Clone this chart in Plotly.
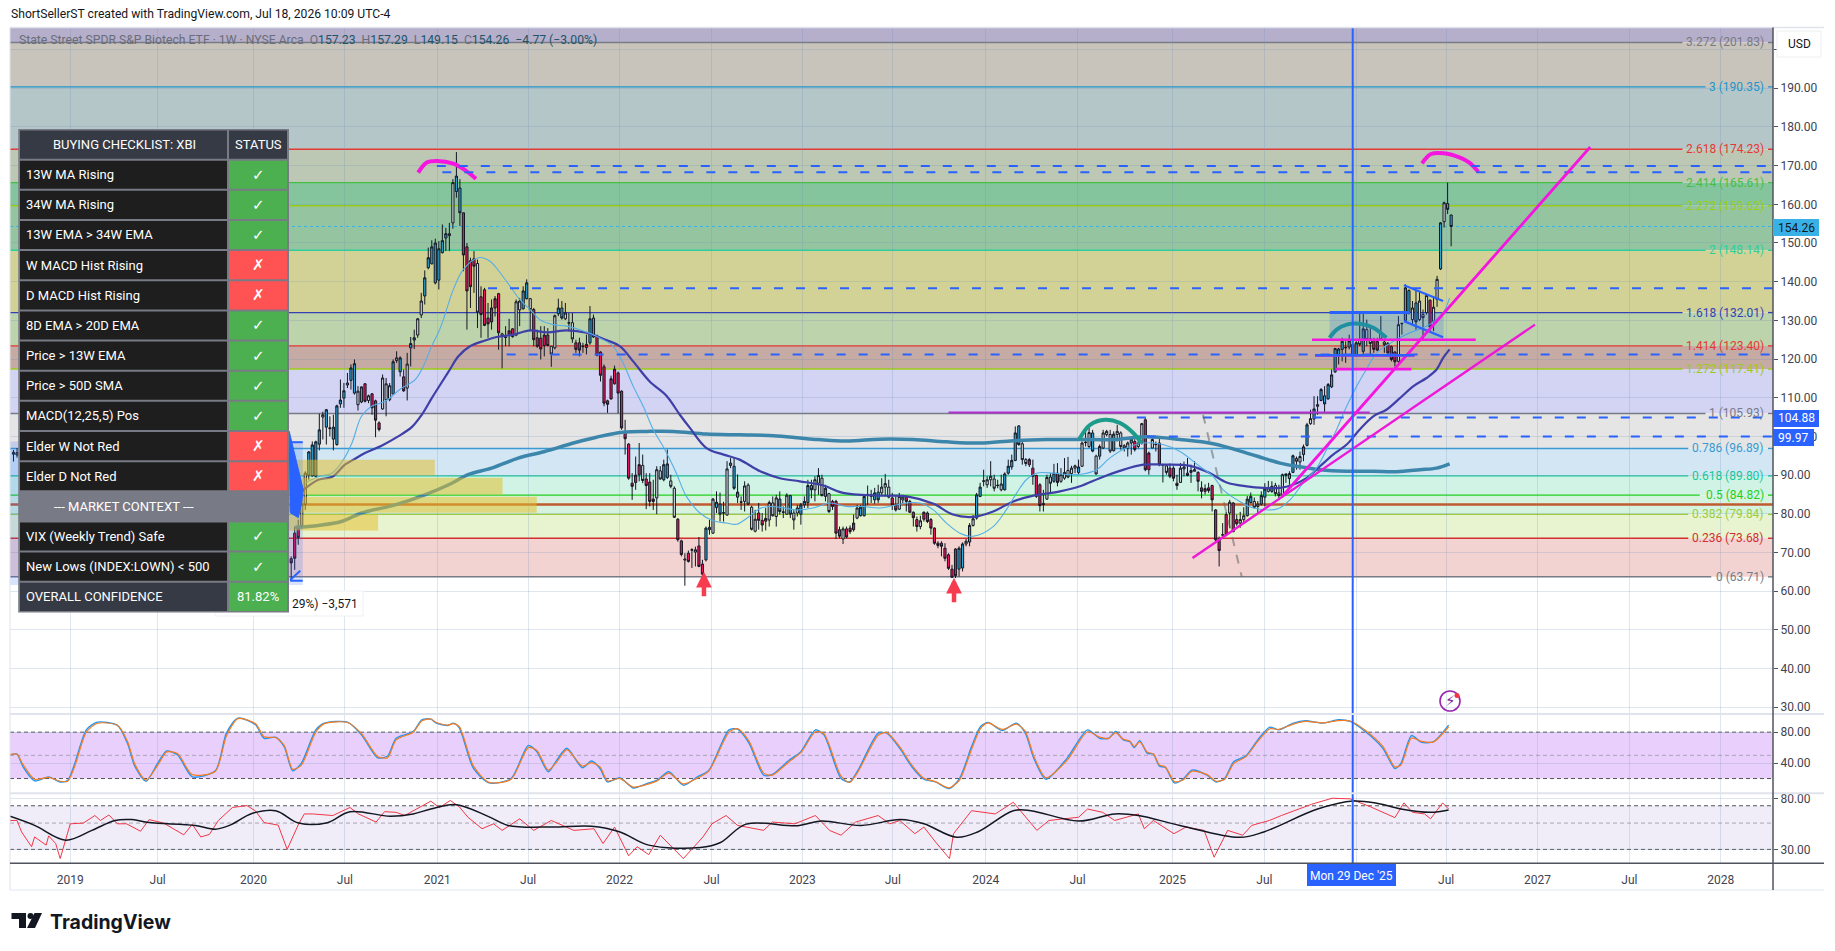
import pandas as pd
import plotly.graph_objects as go

W, H = 1835, 951
FONT = "Roboto"

# weekly candles: three early bars left of the table, then 2020-03-16 onward
early_dates = ["2018-09-10", "2018-09-17", "2018-09-24"]
bar_state = ("bnb"
             "rrrnnbbbbn" "bnbbbbnbbn" "brnrrrnnnb" "nbrnbbnnbb" "bbbbbnnbbr"
             "rrrnrrrrrr" "nnrrnnbbnr" "rrrrnnbbnn" "nrrnrbbrrr" "rrrrrrrrrr"
             "nrrrnnbbnn" "rrnrnnrrbn" "nbbnnnbbnn" "nnnrrrnnnb" "nnbnnbbbbn"
             "nnbnrrrnrr" "rnbbnnbbnn" "nrrnnrrrrn" "rrrrrrrrrr" "bbnbnbbnnn"
             "nnnbbbbbnn" "rrrrnnnbrn" "nnnnbnnnbn" "bnnnbnnnnb" "rnnrrnnrnn"
             "rrrnnrnnrr" "rrrrrnrnrr" "nnbbnnbbnb" "nnnnbbnnbb" "nbnbbbbbbb"
             "nbbbnbnnrr" "nnrrrnnbbn" "bnnnrnnbnb" "b")

bar_open = [95.4, 95.8, 95.2,
            68.4, 75, 76.3, 77, 82.5, 90, 89.8, 89.7, 98, 105,
            102.4, 102, 99.3, 97.9, 108.4, 109.9, 113.3, 114.5, 111.2, 108.2,
            108.9, 113.6, 109.3, 111, 109.2, 103.5, 107.1, 109.5, 109.5, 111,
            119.6, 116.7, 115.4, 112.5, 122.9, 124.9, 126.2, 131.4, 136.3, 143.6,
            144.6, 139.7, 140.4, 147.5, 151.3, 151.9, 155.2, 163.3, 164.2, 157.8,
            149, 145.4, 145.9, 144.7, 136.1, 137.9, 130.6, 129.6, 133.2, 136.9,
            126.5, 125.7, 126.5, 127.8, 126.2, 132.7, 133, 135.6, 135.6, 132.8,
            125.5, 125.4, 123.5, 126.2, 123.3, 122.9, 131.7, 133.2, 130.4, 129.4,
            129.4, 124.2, 124.2, 123.2, 123, 124.2, 130.6, 125.9, 121.8, 118,
            109.2, 109.7, 113.6, 116.4, 111.7, 101.1, 98, 87.9, 88.1, 90.1,
            92.5, 89, 88.2, 83.8, 84.1, 91.1, 88.8, 89.4, 88.5, 86.6,
            78.6, 73, 68.3, 69.8, 70.6, 70.1, 71.7, 67, 68.1, 75.9,
            75, 81.6, 82.5, 80.3, 79.7, 92.5, 92.3, 84.3, 83.1, 83.2,
            87.4, 81.7, 75.5, 80.2, 78.3, 78.1, 78.4, 82.8, 79.3, 83.8,
            80.5, 79.9, 84.7, 80.2, 80.2, 79.9, 82.3, 82.9, 87.3, 86.2,
            87.9, 89.2, 84.5, 85.2, 83.2, 83.2, 75.9, 73.5, 76.1, 76.3,
            75.9, 78.9, 79.5, 79.5, 84.9, 84.9, 83.6, 85.6, 85.4, 86.9,
            86.9, 84.1, 82.3, 81.2, 83.6, 84.3, 83.2, 80.4, 78.5, 76.7,
            78.6, 80.2, 78.5, 76.3, 72.4, 72.4, 71.1, 69.4, 65.7, 70.9,
            65.7, 66, 72.2, 72.7, 77, 78.9, 84.5, 88.4, 87.5, 88.8,
            89, 87.4, 86.2, 86.2, 90.5, 92.1, 93.8, 102.7, 98.1, 94,
            92.7, 91.8, 89.9, 87.5, 82.7, 83.8, 89.5, 88.4, 90.5, 88.4,
            89.2, 91.2, 90.4, 91.8, 90.7, 92.3, 98.4, 97.4, 100.9, 94.9,
            94.9, 97, 100.5, 100.5, 96.3, 100.5, 100.9, 97.6, 97, 98.3,
            98.7, 97.4, 98.3, 104.3, 91.4, 97, 98, 98.3, 92.7, 92.4,
            91.8, 91.8, 87.9, 88.1, 91.6, 90.5, 90.7, 91, 90.7, 86.7,
            85.8, 86.7, 87.3, 81, 73.5, 74.6, 79.8, 80.2, 82.8, 78.5,
            77.6, 78.5, 79.5, 82.9, 83.2, 81.9, 82.5, 84.3, 85.8, 85.8,
            87.3, 85.4, 84.5, 89.9, 89.1, 90.7, 94.3, 93.4, 95.3, 97.7,
            103.3, 104.5, 107.8, 109.3, 110.5, 109.7, 112.8, 116.7, 121, 122.5,
            122.9, 123.1, 123.8, 121, 125, 122, 127.6, 125.2, 125, 124.5,
            125.2, 124.4, 124, 123.2, 121.8, 119.4, 129.1, 130, 137.7, 130.2,
            134.5, 130.2, 131.5, 132, 135.2, 129.8, 135.4, 143.3, 155.5, 160.2, 157.23]

bar_high = [96.5, 97, 96,
            69, 76.7, 78.5, 83.6, 91, 96.2, 98.7, 98.9, 105.9, 106.4,
            107.1, 105.2, 105.6, 108.2, 114.7, 113.8, 116.4, 118.6, 119.9, 113,
            112.9, 113.8, 110.8, 111.2, 109.5, 103.9, 116, 115.1, 113.8, 119.9,
            122, 120.7, 117.3, 121.6, 125.7, 127.6, 130.6, 137.1, 142.9, 148.8,
            150.7, 151.1, 150.5, 154.8, 153.9, 155.2, 166.5, 173.5, 166.5, 157.8,
            150, 146.2, 147.9, 145.7, 138.8, 138.4, 134.5, 135.4, 136.3, 137.1,
            126.8, 128.5, 130.4, 128, 135.4, 135.8, 138.8, 140.6, 135.8, 133.2,
            127.6, 128.5, 128.5, 128, 123.3, 131.5, 135.6, 135, 134.5, 131.9,
            131.9, 125, 125.5, 124.2, 126.3, 133.7, 131.5, 126.3, 122, 118.6,
            109.5, 115.7, 118.3, 116.8, 111.9, 104.3, 98.3, 90.5, 94.8, 98.3,
            95.3, 90.5, 90.5, 88.8, 92.3, 92.3, 94, 96.6, 90.1, 87.1,
            78.9, 73.3, 69.8, 70.5, 71.1, 71.5, 74, 68.1, 76.7, 78.4,
            84.1, 85.8, 85.5, 83.1, 93.6, 94.4, 94.4, 90.2, 84.5, 88.4,
            87.9, 82.1, 81, 82.8, 80.2, 81.5, 83.4, 84.5, 84.9, 85.8,
            81.9, 85.3, 84.9, 81, 82.3, 82.8, 84.5, 88.8, 88.8, 89.7,
            91.8, 90.1, 87.5, 85.4, 83.6, 83.6, 76.7, 76.7, 76.7, 77,
            79.8, 82.3, 82.3, 84.9, 87.3, 86.2, 86.7, 87.5, 89.2, 90.3,
            88.8, 85.4, 84.5, 85.4, 84.9, 84.5, 83.6, 80.6, 79.3, 79.5,
            80.6, 80.6, 78.9, 76.5, 72.9, 72.9, 72.4, 69.8, 66.8, 71.1,
            71.6, 72.6, 73.5, 77.6, 79.7, 85.4, 88, 91.4, 89.7, 93.6,
            90.1, 88.8, 90.1, 90.7, 94, 95.3, 102.6, 102.9, 99.2, 94.4,
            94.4, 94, 90.1, 87.9, 86.2, 90.1, 90.5, 92.9, 93.1, 91.8,
            94.4, 94.7, 92.4, 92.7, 94, 98.7, 101.7, 102.2, 101.7, 95.3,
            97.9, 101.7, 101.7, 101.7, 101.3, 103, 101.3, 98, 98.7, 100,
            99.3, 98.9, 103.5, 104.8, 96.1, 99.6, 98.7, 99.6, 92.9, 92.7,
            93, 92.3, 90.1, 93.1, 93.5, 94.4, 92.7, 93.6, 91, 88.4,
            87.6, 88, 87.5, 81.2, 74.1, 77.6, 80.6, 83.6, 83, 79.8,
            80.5, 81.7, 84.6, 85.5, 84.2, 83.3, 85.8, 87.9, 88.5, 88.4,
            88, 87.5, 90.4, 90.4, 91, 95.3, 94.8, 96.1, 97.9, 103.5,
            106.9, 110.4, 110.4, 112.5, 113, 113.8, 117.3, 122.9, 122.9, 125.5,
            124.6, 126.3, 125, 124.6, 131.9, 131.9, 130.2, 128.1, 125.5, 125.5,
            131.1, 125, 124.4, 123.5, 122, 131.1, 129.4, 139.3, 138, 135,
            137.6, 137.6, 132.8, 136.7, 135.4, 136.3, 141.5, 155.4, 160.7, 165.61, 157.29]

bar_low = [93.5, 94.5, 92.5,
           62.8, 65.5, 72, 76.7, 81, 88.8, 89.6, 89.5, 96.4, 99.2,
           97.9, 100, 96.4, 97.6, 107.4, 107.4, 112.5, 112.1, 110.8, 106.7,
           108.6, 108.8, 108.6, 105.6, 99.8, 101.3, 106.9, 105.2, 109.1, 110.8,
           119, 115.5, 111.5, 109.3, 118.1, 122.6, 125.5, 130.6, 134.1, 143.2,
           144.5, 139.3, 138, 147.3, 147.9, 147.9, 153.7, 161.7, 154.4, 142.7,
           127.6, 133.2, 137.1, 128, 125.5, 128.5, 125.5, 127.6, 131, 122.4,
           117.6, 123.3, 123.3, 125.5, 125.9, 128.5, 132.8, 135.4, 127.2, 123.3,
           122.9, 119.9, 120.7, 123.3, 118, 122.5, 131.1, 130.2, 130.1, 127.2,
           124.2, 121.6, 120.7, 121.6, 121.2, 123.7, 125.5, 120.7, 114.2, 107.8,
           106.1, 109.5, 113.4, 106, 101.7, 95.3, 88.8, 83.6, 86.2, 88.4,
           87.9, 81.2, 81.9, 81, 79.9, 88.8, 88.4, 89, 86.6, 78.9,
           72.8, 69, 61.4, 67.4, 66, 66.4, 66.2, 61.6, 67.7, 74.6,
           74.8, 80.2, 78, 78, 79.5, 91.8, 86.2, 82.8, 81, 80.6,
           82.2, 75.7, 75.2, 75.9, 75.4, 75.7, 76.7, 79.3, 76.7, 79.8,
           78.9, 79.7, 78.9, 75.9, 79.3, 77.2, 81.5, 81.5, 84, 83.2,
           84.9, 84.5, 83.2, 80.2, 81, 73.5, 73.7, 72.2, 73.7, 74.8,
           75.4, 78.6, 79.3, 79.3, 82.3, 82.8, 82.6, 82.8, 84.9, 84.5,
           84, 81, 80.6, 81, 82.6, 80.6, 80.2, 76.7, 75.4, 76,
           78, 77.6, 74.6, 72, 71.1, 69, 67.7, 65.5, 63.4, 63.4,
           63.8, 65.1, 71.6, 71.6, 76.7, 78.5, 84.3, 87.1, 86.7, 87.1,
           85.8, 86.6, 85.8, 86, 90.1, 91.4, 93.6, 97.6, 92.7, 92.3,
           92.1, 87.5, 84.1, 80.6, 80.6, 83.6, 85.4, 88, 87.1, 88,
           88.8, 89.2, 88, 90.5, 90.1, 92.1, 97.4, 97, 95.9, 90.1,
           94, 96.8, 100, 95.7, 96.1, 98.7, 96.6, 96.1, 94.8, 95.3,
           96.1, 96.9, 97.9, 91, 90.1, 97, 96.1, 92.3, 88.1, 90.1,
           89.2, 88.4, 86.2, 88, 89.7, 89.7, 88, 91, 85.8, 84,
           85, 85.4, 80.6, 72.9, 66.4, 73.7, 74.2, 76.3, 75.2, 76.9,
           76.4, 77.9, 79.3, 82.7, 81.4, 80.2, 82.1, 81.9, 85.5, 85.4,
           84.5, 83.6, 84.3, 88, 87.5, 90.5, 91.4, 91.4, 93.6, 97.4,
           103, 103, 105.6, 109.1, 106.1, 109.5, 112.5, 116.4, 118.6, 119.4,
           119, 122.5, 120.7, 120.6, 123.3, 121.2, 123.3, 121.2, 121.6, 122,
           124.9, 121.6, 121.2, 119.4, 118.1, 119, 126.3, 129.8, 131.5, 128.9,
           127.6, 129.8, 125, 131.5, 127.2, 127.2, 133.5, 143, 154, 157.5, 149.15]

bar_close = [95.9, 95.2, 94.8,
             67.3, 68.5, 73.9, 82.5, 90.5, 96, 97.8, 98.6, 101.7, 105.6,
             106.9, 102.2, 102.4, 107.9, 109.4, 111.8, 113.8, 117.7, 118.8, 111.7,
             112.8, 109.1, 110.5, 107.4, 104.2, 101.8, 115.1, 113.6, 113.1, 119.3,
             120.3, 120.3, 111.8, 118.7, 124, 125.5, 130.4, 135, 141, 146.2,
             149, 150, 148.5, 150.6, 152.4, 152.4, 165.6, 167.3, 157.8, 146.9,
             137.6, 138.7, 144, 132.1, 131.5, 128.7, 129.1, 133.2, 135.6, 126.8,
             125.9, 125.6, 127.3, 125.8, 134.8, 135, 137.6, 139.7, 132.8, 125,
             123.3, 122.6, 126.2, 123.5, 121.3, 131.2, 133.2, 130.6, 131.9, 129.3,
             125.2, 122.5, 122.3, 123.3, 123.8, 130.4, 125.7, 121, 115.8, 108.6,
             108.3, 114.9, 117.4, 111.2, 102.2, 99.4, 89.2, 87.1, 90, 92.7,
             88.6, 87.3, 83.2, 83.2, 91.4, 89, 92.7, 92.9, 87.1, 79.1,
             73.3, 69.5, 68.1, 67.7, 70.7, 70.7, 66.4, 64.4, 76.3, 76.5,
             83.8, 83, 79.9, 80.2, 91.6, 93.1, 86.6, 85.6, 83, 87.2,
             82.5, 76, 78.6, 78.3, 77.1, 78.8, 82.9, 79.5, 84.1, 80.6,
             80.4, 84.8, 79.9, 78.4, 81.5, 82.3, 83.2, 87.3, 86.2, 88.8,
             89.9, 84.7, 86.6, 80.6, 81.9, 75, 74.2, 76.1, 74, 75.4,
             77.6, 81.5, 81.7, 84.5, 85, 84.5, 85.4, 83.6, 86.9, 87.8,
             84.3, 82.3, 81, 84.5, 84.3, 83.2, 80.4, 79, 76.7, 78.2,
             80.4, 78, 76.3, 72.4, 71.8, 71.6, 68.5, 65.9, 63.6, 64,
             71.1, 72.2, 72.9, 77, 78.7, 84.9, 86.9, 88.5, 88.8, 89.7,
             86.6, 87.3, 87.7, 90.3, 92.3, 93.8, 100.9, 97.9, 94, 93,
             94, 89.7, 84.5, 82.1, 82.4, 89.4, 87.9, 90.5, 88.1, 90.1,
             90.7, 89.5, 91.8, 92.4, 92.1, 98.3, 98.5, 101, 96.2, 90.3,
             97.4, 100.9, 101.3, 96.2, 100.6, 101.3, 97.4, 97, 98.3, 99.3,
             96.6, 98.3, 103.3, 91.4, 95.7, 99.2, 97.9, 92.7, 92.6, 90.7,
             89.7, 89.2, 87.3, 91.8, 92.1, 89.9, 91.2, 91.4, 88.4, 85.8,
             86.5, 86, 83.6, 73.3, 70.5, 74.5, 74.6, 83, 75.4, 77.4,
             78.5, 79.5, 83.8, 84.5, 81.7, 82.5, 84.7, 86.4, 86.7, 87.1,
             85.2, 84.7, 90.1, 90.3, 90.4, 95, 93.6, 94.8, 97.3, 103,
             104.6, 107.1, 108.2, 112.1, 108.4, 113.4, 115.9, 122.7, 122.6, 124.6,
             123, 124.7, 121.2, 124.2, 123.8, 127.8, 125, 124, 122.5, 122.3,
             126.9, 123.7, 121.6, 119.9, 119.3, 128.9, 129.2, 138.4, 132, 133.2,
             129.6, 135, 130.7, 136.4, 128.3, 133.4, 140.6, 155.2, 160.4, 158.7, 154.26]

# moving averages, time in decimal years
ma13_time = [2020.281, 2020.354, 2020.427, 2020.49, 2020.536, 2020.59, 2020.645, 2020.717, 2020.808, 2020.881,
             2020.926, 2020.972, 2021.008, 2021.035, 2021.09, 2021.144, 2021.226, 2021.29, 2021.344, 2021.399,
             2021.453, 2021.508, 2021.562, 2021.635, 2021.708, 2021.78, 2021.871, 2021.962, 2022.017, 2022.071,
             2022.126, 2022.18, 2022.244, 2022.307, 2022.362, 2022.434, 2022.507, 2022.58, 2022.634, 2022.689,
             2022.762, 2022.834, 2022.962, 2023.052, 2023.143, 2023.234, 2023.325, 2023.416, 2023.562, 2023.634,
             2023.707, 2023.779, 2023.852, 2023.925, 2024.034, 2024.106, 2024.161, 2024.215, 2024.27, 2024.361,
             2024.452, 2024.524, 2024.597, 2024.67, 2024.76, 2024.851, 2024.96, 2025.051, 2025.16, 2025.233,
             2025.288, 2025.378, 2025.451, 2025.587, 2025.651, 2025.724, 2025.796, 2025.851, 2025.905, 2025.96,
             2026.015, 2026.069, 2026.124, 2026.215, 2026.305, 2026.414, 2026.487, 2026.523]
ma13_value = [87.9, 89.6, 90.5, 94, 98.3, 105.2, 107.8, 109.1, 112.5, 114.7,
              118.1, 123.4, 126.8, 130.2, 138, 143.2, 146.2, 145.3, 142.3, 138.8,
              135.4, 132.8, 130.2, 128.9, 128.5, 127.6, 125.9, 123.3, 119, 113,
              107.8, 101.8, 96.6, 90.5, 84.5, 80.2, 78.2, 77.6, 77.3, 78.8,
              81.4, 81.9, 81, 81.5, 82.8, 81.9, 81.9, 81.5, 82.8, 82.8,
              81, 77.6, 75, 74.2, 76.7, 81, 85.4, 88.8, 90.5, 90.5,
              90.1, 90.3, 91.4, 94.4, 97, 98.3, 97.9, 96.1, 92.3, 89.7,
              86.2, 83.2, 81.5, 81.3, 83.6, 87.9, 91.8, 96.6, 101.8, 107.8,
              113, 117.3, 121.6, 124.6, 126.8, 128.9, 132, 135.8]

ma34_time = [2020.263, 2020.354, 2020.427, 2020.5, 2020.545, 2020.608, 2020.699, 2020.79, 2020.863, 2020.917,
             2020.972, 2021.026, 2021.072, 2021.117, 2021.181, 2021.262, 2021.326, 2021.417, 2021.508, 2021.599,
             2021.708, 2021.817, 2021.926, 2021.999, 2022.071, 2022.162, 2022.253, 2022.326, 2022.38, 2022.471,
             2022.562, 2022.652, 2022.762, 2022.871, 2022.98, 2023.107, 2023.216, 2023.416, 2023.562, 2023.707,
             2023.815, 2023.925, 2024.034, 2024.143, 2024.252, 2024.397, 2024.506, 2024.615, 2024.724, 2024.851,
             2024.96, 2025.106, 2025.215, 2025.306, 2025.415, 2025.506, 2025.597, 2025.669, 2025.742, 2025.815,
             2025.887, 2025.96, 2026.033, 2026.106, 2026.178, 2026.251, 2026.324, 2026.396, 2026.451, 2026.487, 2026.523]
ma34_value = [85.8, 88.8, 89.5, 92.7, 94, 95.7, 97.6, 100, 102.4, 105.6,
              109.9, 113.8, 117.3, 120.7, 123.3, 124.8, 125.7, 126.3, 127.4, 126.9,
              127.4, 126.8, 124.9, 123.3, 119.4, 114.2, 110.4, 105.6, 102.2, 97,
              95.3, 94, 91, 89.2, 88.4, 87.3, 85.4, 84.7, 84.5, 82.6,
              79.8, 79.2, 80.6, 83.2, 84.7, 85.8, 87.1, 89.2, 91.1, 92.7,
              92.7, 92.4, 90.5, 88.1, 87.1, 86.7, 86.7, 87.5, 89.2, 92.3,
              95.3, 97.9, 101.8, 105.2, 106.9, 109.9, 113, 115.1, 117.3, 120.3, 122.5]

ma200_time = [2020.227, 2020.354, 2020.481, 2020.59, 2020.772, 2020.935, 2021.081, 2021.171, 2021.299, 2021.444,
              2021.59, 2021.744, 2021.871, 2022.016, 2022.144, 2022.289, 2022.471, 2022.652, 2022.834, 2022.98,
              2023.052, 2023.234, 2023.416, 2023.597, 2023.779, 2023.961, 2024.143, 2024.325, 2024.506, 2024.688,
              2024.87, 2025.051, 2025.233, 2025.415, 2025.506, 2025.597, 2025.688, 2025.815, 2025.96, 2026.105,
              2026.233, 2026.36, 2026.451, 2026.523]
ma200_value = [76.5, 77, 78, 80.2, 82.3, 84.9, 87.9, 90.1, 91.8, 94.4,
               96.1, 98.3, 99.8, 101.1, 101.3, 101.3, 100.6, 100.4, 100.2, 99.6,
               99.3, 98.8, 99.3, 99.2, 98.6, 98.3, 98.9, 99.2, 99.2, 99.2,
               99.9, 99.2, 98.1, 95.7, 94.4, 93.1, 92.3, 91.4, 91, 91,
               90.9, 91.4, 91.8, 92.9]

# stochastic RSI pane
stoch_time = [2018.674, 2018.712, 2018.743, 2018.806, 2018.884, 2018.947, 2018.987, 2019.025, 2019.088, 2019.15,
              2019.26, 2019.313, 2019.354, 2019.416, 2019.479, 2019.526, 2019.588, 2019.667, 2019.792, 2019.854,
              2019.917, 2020.011, 2020.058, 2020.12, 2020.167, 2020.214, 2020.261, 2020.34, 2020.387, 2020.512,
              2020.59, 2020.678, 2020.731, 2020.778, 2020.872, 2020.919, 2020.966, 2020.997, 2021.059, 2021.091,
              2021.122, 2021.2, 2021.285, 2021.404, 2021.498, 2021.545, 2021.607, 2021.654, 2021.71, 2021.795,
              2021.842, 2021.889, 2021.93, 2021.998, 2022.07, 2022.155, 2022.202, 2022.264, 2022.343, 2022.421,
              2022.484, 2022.593, 2022.64, 2022.703, 2022.781, 2022.828, 2022.922, 2022.984, 2023.063, 2023.11,
              2023.203, 2023.25, 2023.297, 2023.407, 2023.454,
              2023.525, 2023.59, 2023.655, 2023.72, 2023.792, 2023.85, 2023.915, 2023.964, 2024.006, 2024.084,
              2024.159, 2024.208, 2024.256, 2024.321, 2024.435, 2024.549, 2024.614, 2024.663, 2024.702, 2024.744,
              2024.777, 2024.803, 2024.832, 2024.874, 2024.907, 2024.939, 2024.972, 2025.021, 2025.069, 2025.118,
              2025.199, 2025.248, 2025.297, 2025.345, 2025.411, 2025.476, 2025.541, 2025.589, 2025.671, 2025.736,
              2025.833, 2025.914, 2025.979, 2026.061, 2026.158, 2026.223, 2026.256, 2026.314, 2026.37, 2026.435, 2026.516]
stoch_k = [50.4, 51.7, 35.2, 17, 22.2, 15.6, 17.8, 39.6, 83, 93,
           88.7, 65.6, 35.2, 16.5, 39.6, 55.6, 50.4, 22.2, 30, 78.7,
           98.2, 89.5, 72.1, 73.4, 61.3, 30, 39.6, 83, 91.7, 93,
           76.5, 46.9, 49.1, 72.1, 80.8, 96, 96.9, 91.7, 88.7, 91.7,
           85.2, 33, 14.3, 20, 62.6, 54.8, 28.7, 43.9, 59.1, 33.9,
           42.6, 33, 15.6, 20.9, 7.8, 14.3, 17.8, 28.7, 11.3, 22.2,
           30.9, 83, 83.9, 65.6, 24.3, 25.2, 43.9, 54.8, 83, 76.5,
           20, 15.6, 30.9, 78.7, 78.7,
           59.1, 35.2, 19.1, 15.6, 6.9, 20, 61.3, 87.4, 92.6, 82.1,
           91.7, 78.7, 46.1, 19.1, 46.1, 83, 72.1, 72.1, 80.8, 70,
           67.8, 60, 69.1, 52.6, 51.7, 36, 34.3, 14.3, 19.1, 30.9,
           24.3, 15.6, 20, 41.7, 49.1, 70, 86.5, 83, 91.7, 94.7,
           91.7, 96, 93.9, 80.8, 59.1, 33, 39.6, 75.6, 66.9, 67.8, 89.1]
stoch_d = [51, 51.5, 38, 19, 21.5, 16.5, 16.5, 36, 80, 91.5,
           89, 68, 38, 18, 37, 54.5, 52, 25, 29.5, 75,
           97.5, 91, 74, 73, 63, 32, 37, 80, 91, 92.5,
           78, 48.5, 47, 70, 80, 94.5, 97, 92.5, 89, 91,
           87, 36, 15, 19, 60, 56.5, 31, 41.5, 57.5, 36,
           40.5, 35, 17, 20, 9, 13, 17, 27, 13, 20.5,
           30, 80, 84.5, 68, 27, 24.5, 42, 53.5, 80.5, 78,
           23, 15, 29, 76, 79.5,
           61, 37.5, 20.5, 16, 8, 18, 58, 85, 92, 83.5,
           90.5, 81, 49, 21, 43.5, 80.5, 73.5, 72, 79.5, 71,
           68.5, 61.5, 67.5, 54, 52, 37.5, 35, 16, 18, 29.5,
           25, 16.5, 19, 39.5, 48, 68, 84.5, 83.5, 90.5, 94,
           92, 95, 94.5, 82.5, 61.5, 35, 37.5, 72.5, 68, 67.5, 87]

# RSI pane
rsi_time = [2018.674, 2018.712, 2018.737, 2018.79, 2018.806, 2018.869, 2018.884, 2018.922, 2018.947, 2019.0,
            2019.072, 2019.135, 2019.166, 2019.213, 2019.26, 2019.307, 2019.385, 2019.432, 2019.51, 2019.62,
            2019.667, 2019.714, 2019.761, 2019.808, 2019.886, 2019.964, 2020.011, 2020.058, 2020.136, 2020.183,
            2020.246, 2020.277, 2020.324, 2020.434, 2020.527, 2020.574, 2020.668, 2020.715, 2020.778, 2020.825,
            2020.966, 2021.013, 2021.075, 2021.122, 2021.169, 2021.247, 2021.31, 2021.357, 2021.451, 2021.529,
            2021.623, 2021.748, 2021.858, 2021.905, 2021.968, 2022.045, 2022.092, 2022.155, 2022.218, 2022.343,
            2022.452, 2022.499, 2022.577, 2022.64, 2022.781, 2022.828, 2022.953, 2023.063, 2023.141, 2023.203,
            2023.282, 2023.407, 2023.47, 2023.525, 2023.606, 2023.655, 2023.72, 2023.795, 2023.818, 2023.915,
            2024.045, 2024.143, 2024.273, 2024.338, 2024.5, 2024.549, 2024.63, 2024.695, 2024.825, 2024.858,
            2024.907, 2025.02, 2025.085, 2025.183, 2025.238, 2025.313, 2025.394, 2025.443, 2025.54, 2025.606,
            2025.768, 2025.882, 2025.979, 2026.093, 2026.223, 2026.272, 2026.321, 2026.386, 2026.418, 2026.483, 2026.516]
rsi_value = [52.6, 52.6, 42.1, 31.6, 38.2, 32.6, 39, 33.6, 25.1, 49.3,
             50, 57.9, 52.6, 58.5, 49.3, 49.3, 42.7, 53.5, 50, 39.8,
             48.8, 38.2, 40.1, 52.6, 67.7, 70.2, 63.2, 50.5, 48.1, 30,
             49.3, 59.7, 59.7, 57.9, 67.7, 59.7, 51, 62.4, 61.6, 57.9,
             76.5, 67.7, 77.5, 68.4, 56, 44.8, 49.3, 43.4, 54.3, 43.4,
             52.6, 43.4, 44.8, 33.6, 46.3, 26.5, 31.6, 27.1, 39.5, 25.1,
             38.2, 49.3, 57.9, 47.8, 43.4, 51, 49.3, 57.9, 43.4, 39.5,
             51, 57.9, 49.3, 52.6, 40.7, 46.3, 34.7, 25.1, 40.7, 63.6,
             59.7, 74.9, 43.4, 52.6, 56, 65.7, 61.6, 52.6, 59.7, 44.8,
             52.6, 40.7, 46.3, 43.4, 25.8, 43.4, 39.5, 47.8, 52.6, 57.9,
             72, 81, 80, 68.4, 55.6, 74, 61.6, 59.7, 54.3, 74, 65.7]

rsi_ma_time = [2018.674, 2018.806, 2018.978, 2019.119, 2019.244, 2019.338, 2019.432, 2019.682, 2019.792, 2019.87,
               2019.995, 2020.12, 2020.246, 2020.402, 2020.527, 2020.746, 2020.872, 2020.966, 2021.106, 2021.278,
               2021.388, 2021.623, 2021.842, 2021.998, 2022.155, 2022.437, 2022.546, 2022.687, 2022.969, 2023.094,
               2023.313, 2023.526, 2023.655, 2023.834, 2023.948, 2024.143, 2024.24, 2024.5, 2024.695, 2024.825,
               2025.053, 2025.378, 2025.508, 2025.801, 2025.996, 2026.126, 2026.256, 2026.418, 2026.516]
rsi_ma_value = [57, 47.8, 35.9, 43.4, 52.6, 53.5, 50.5, 47.8, 44.4, 47.8,
                60.5, 63.6, 50, 50.4, 62.4, 57.1, 59.7, 65.7, 71.5, 57,
                47.8, 46.3, 47.1, 42.1, 32.6, 31.1, 34.3, 49, 47.5, 52,
                47.8, 53.5, 49.3, 38, 42.1, 63.6, 63.6, 52, 59.7, 57.9,
                47.8, 37.9, 42.1, 65.7, 76.8, 73.5, 65.7, 61.6, 64.5]

# fib retracement levels
fib_ratio = ["3.272", "3", "2.618", "2.414", "2.272", "2", "1.618", "1.414", "1.272", "1", "0.786", "0.618", "0.5", "0.382", "0.236", "0"]
fib_price = [201.83, 190.35, 174.23, 165.61, 159.62, 148.14, 132.01, 123.40, 117.41, 105.93, 96.89, 89.80, 84.82, 79.84, 73.68, 63.71]
fib_line = ["#787b86", "#2196c9", "#e53935", "#43c043", "#9ccc16", "#2fcf9c", "#3341b5", "#e53935", "#9ccc16",
            "#787b86", "#3a9ad1", "#16c79a", "#1fd01f", "#9ccc40", "#d32f2f", "#787b86"]
fib_band = ["#c8c4bc", "#b5c6c9", "#bcc8b3", "#85c59e", "#95c5a0", "#d2d296", "#bdd3ab", "#c5aba3", "#d3d3f3",
            "#e5e5e5", "#d2e6f3", "#d0f3e6", "#d6f3df", "#e8f3d0", "#f2d3d1"]

# x axis
tick_dates = ["2019-01-01", "2019-06-24", "2020-01-01", "2020-07-01", "2021-01-01", "2021-07-01", "2021-12-30", "2022-07-01",
              "2022-12-29", "2023-06-27", "2023-12-29", "2024-06-29", "2025-01-04", "2025-07-06", "2026-01-05", "2026-07-03",
              "2027-01-01", "2027-07-03", "2028-01-01"]
tick_names = ["2019", "Jul", "2020", "Jul", "2021", "Jul", "2022", "Jul", "2023", "Jul", "2024", "Jul", "2025", "Jul", "", "Jul", "2027", "Jul", "2028"]

# hand drawn levels and lines: (start year, price)
dash_start = [2021.0, 2021.03, 2021.28, 2021.38, 2024.817, 2024.87]
dash_price = [169.9, 168.3, 138.3, 121.2, 104.9, 99.95]
trend_a = [(2025.607, 84.4), (2027.29, 174.8)]
trend_b = [(2025.12, 68.6), (2026.987, 128.9)]
magenta_h = [(2025.773, 2026.665, 125.0), (2025.788, 2026.33, 120.9), (2025.902, 2026.315, 117.4)]
arc_m1 = ([2020.899, 2020.945, 2020.999, 2021.09, 2021.162, 2021.213], [168.2, 170.8, 171.2, 170.5, 168.6, 166.6])
arc_m2 = ([2026.373, 2026.42, 2026.49, 2026.582, 2026.632, 2026.679], [170.6, 173, 173.2, 172, 170.7, 168.4])
arc_t1 = ([2024.503, 2024.561, 2024.643, 2024.724, 2024.797, 2024.842], [99.2, 103, 104.3, 103.5, 100.9, 98.3])
arc_t2 = ([2025.869, 2025.905, 2025.96, 2026.033, 2026.106, 2026.178], [125.5, 127.6, 128.9, 129.1, 128.1, 125.5])
vp_end = [2020.99, 2021.36, 2021.546, 2020.679]
vp_top = [94, 89.3, 84.4, 79.8]
vp_bottom = [89.9, 84.9, 80.3, 75.7]
wedge = ([2020.194, 2020.272, 2020.263, 2020.245, 2020.2], [101.3, 86.2, 82.9, 79, 80.3])

# table
table_rows = ["13W MA Rising", "34W MA Rising", "13W EMA > 34W EMA", "W MACD Hist Rising", "D MACD Hist Rising",
              "8D EMA > 20D EMA", "Price > 13W EMA", "Price > 50D SMA", "MACD(12,25,5) Pos", "Elder W Not Red",
              "Elder D Not Red", "--- MARKET CONTEXT ---", "VIX (Weekly Trend) Safe", "New Lows (INDEX:LOWN) < 500"]
table_pass = [1, 1, 1, 0, 0, 1, 1, 1, 1, 0, 0, None, 1, 1]

dates = pd.to_datetime(early_dates + list(pd.date_range("2020-03-16", periods=331, freq="7D")))


def to_date(year):
    # the time axis is linear, so decimal years map straight onto days
    return (pd.Timestamp("2019-01-01") + pd.Timedelta(days=(year - 2019) * 365.25)).strftime("%Y-%m-%d")


def fx(px):
    return px / W


def fy(px):
    return 1 - px / H


def dates_of(years):
    return [to_date(y) for y in years]


LEFT, RIGHT = 10, 1773
X_RANGE = ["2018-09-03", "2028-04-14"]
BLUE = "#2962ff"
MAGENTA = "#f514e0"
GRID = "rgba(110,140,180,0.22)"

fig = go.Figure()

# pane 1 lines, candles on top
fig.add_trace(go.Scatter(x=dates_of(ma200_time), y=ma200_value, mode="lines", line=dict(color="#3d86ab", width=3.5, shape="spline")))
fig.add_trace(go.Scatter(x=dates_of(ma34_time), y=ma34_value, mode="lines", line=dict(color="#3f3fa8", width=2.2, shape="spline")))
fig.add_trace(go.Scatter(x=dates_of(ma13_time), y=ma13_value, mode="lines", line=dict(color="#55aee6", width=1.1, shape="spline")))

state_fill = {"b": "#2ea6da", "r": "#ec1460", "n": "#d5dbe0"}
for state, fill in state_fill.items():
    idx = [i for i, s in enumerate(bar_state) if s == state]
    style = dict(line=dict(color="#131722", width=1), fillcolor=fill)
    fig.add_trace(go.Candlestick(
        x=dates[idx],
        open=[bar_open[i] for i in idx],
        high=[bar_high[i] for i in idx],
        low=[bar_low[i] for i in idx],
        close=[bar_close[i] for i in idx],
        increasing=style, decreasing=style,
        whiskerwidth=0, hoverinfo="skip",
    ))

for arc, color in [(arc_m1, MAGENTA), (arc_m2, MAGENTA), (arc_t1, "#1c9c8a"), (arc_t2, "#1c9c8a")]:
    fig.add_trace(go.Scatter(x=dates_of(arc[0]), y=arc[1], mode="lines",
                             line=dict(color=color, width=4, shape="spline")))

# pane 2 and 3
fig.add_trace(go.Scatter(x=dates_of(stoch_time), y=stoch_k, mode="lines", line=dict(color="#2196f3", width=1.4, shape="spline", smoothing=0.7), xaxis="x2", yaxis="y2"))
fig.add_trace(go.Scatter(x=dates_of(stoch_time), y=stoch_d, mode="lines", line=dict(color="#f57c20", width=1.2, shape="spline", smoothing=0.7), xaxis="x2", yaxis="y2"))
fig.add_trace(go.Scatter(x=dates_of(rsi_time), y=rsi_value, mode="lines", line=dict(color="#f23645", width=1), xaxis="x3", yaxis="y3"))
fig.add_trace(go.Scatter(x=dates_of(rsi_ma_time), y=rsi_ma_value, mode="lines", line=dict(color="#131722", width=1.5, shape="spline"), xaxis="x3", yaxis="y3"))

shapes = []
notes = []


def paper_rect(x0, y0, x1, y1, fill, line=None, width=0, layer="above"):
    shapes.append(dict(type="rect", xref="paper", yref="paper", x0=fx(x0), x1=fx(x1), y0=fy(y0), y1=fy(y1),
                       fillcolor=fill, line=dict(color=line or fill, width=width), layer=layer))


def paper_line(x0, y0, x1, y1, color, width=1, layer="above"):
    shapes.append(dict(type="line", xref="paper", yref="paper", x0=fx(x0), x1=fx(x1), y0=fy(y0), y1=fy(y1),
                       line=dict(color=color, width=width), layer=layer))


def data_line(a, b, color, width=2, dash="solid", layer="above"):
    shapes.append(dict(type="line", xref="x", yref="y", x0=to_date(a[0]), y0=a[1], x1=to_date(b[0]), y1=b[1],
                       line=dict(color=color, width=width, dash=dash), layer=layer))


def data_rect(x0, x1, y0, y1, fill, layer="above"):
    shapes.append(dict(type="rect", xref="x", yref="y", x0=to_date(x0), x1=to_date(x1), y0=y0, y1=y1,
                       fillcolor=fill, line=dict(width=0), layer=layer))


def text(x, y, s, size=12, color="#131722", anchor="left", family=FONT, xref="paper", yref="paper"):
    notes.append(dict(x=x, y=y, xref=xref, yref=yref, text=s, showarrow=False, xanchor=anchor, yanchor="middle",
                      font=dict(family=family, size=size, color=color), borderpad=0))


# fib bands and level lines
Y_TOP, Y_BOTTOM = 205.7, 28.25
band_edges = fib_price
shapes.append(dict(type="rect", xref="paper", yref="y", x0=fx(LEFT), x1=fx(RIGHT), y0=fib_price[0], y1=Y_TOP,
                   fillcolor="#b5afcb", line=dict(width=0), layer="below"))
for i, fill in enumerate(fib_band):
    shapes.append(dict(type="rect", xref="paper", yref="y", x0=fx(LEFT), x1=fx(RIGHT), y0=band_edges[i + 1], y1=band_edges[i],
                       fillcolor=fill, line=dict(width=0), layer="below"))
for ratio, price, color in zip(fib_ratio, fib_price, fib_line):
    label = f"{ratio} ({price:.2f})"
    line_end = 1763 - 5.75 * len(label)
    shapes.append(dict(type="line", xref="paper", yref="y", x0=fx(LEFT), x1=fx(line_end), y0=price, y1=price,
                       line=dict(color=color, width=1.4), layer="between"))
    shapes.append(dict(type="line", xref="paper", yref="y", x0=fx(1768), x1=fx(RIGHT), y0=price, y1=price,
                       line=dict(color=color, width=1.4), layer="between"))
    text(fx(1765), price, label, size=12, color=color, anchor="right", yref="y")

shapes.append(dict(type="line", xref="paper", yref="y", x0=fx(LEFT), x1=fx(RIGHT), y0=82.4, y1=82.4,
                   line=dict(color="#c05a30", width=2.5), layer="between"))
shapes.append(dict(type="line", xref="paper", yref="y", x0=fx(LEFT), x1=fx(RIGHT), y0=154.26, y1=154.26,
                   line=dict(color="#38b2e6", width=1, dash="dot"), layer="between"))

# volume profile blocks
for end, top, bottom in zip(vp_end, vp_top, vp_bottom):
    data_rect(2019.5, end, bottom, top, "rgba(228,190,40,0.52)")

# measuring tool behind the table
data_rect(2018.673, 2020.27, 61.6, 98.7, "rgba(41,98,255,0.18)")
path = "M " + " L ".join(f"{to_date(x)},{y}" for x, y in zip(*wedge)) + " Z"
shapes.append(dict(type="path", xref="x", yref="y", path=path, fillcolor=BLUE, line=dict(color=BLUE, width=1), layer="above"))
data_line((2020.2, 98.5), (2020.27, 98.5), BLUE, 2)
data_line((2020.2, 62.7), (2020.27, 62.7), BLUE, 2)
data_line((2020.2, 62.9), (2020.255, 65.3), BLUE, 2)

# breakout box and flag
data_rect(2025.869, 2026.49, 125.0, 132.0, "rgba(41,98,255,0.2)")
data_line((2025.869, 132.0), (2026.305, 132.0), BLUE, 3)
data_line((2026.273, 139.1), (2026.487, 135), BLUE, 2.2)
data_line((2026.273, 129.8), (2026.487, 125.65), BLUE, 2.2)

# dashed rays
for start, price in zip(dash_start, dash_price):
    shapes.append(dict(type="line", xref="x", yref="y", x0=to_date(start), x1=X_RANGE[1], y0=price, y1=price,
                       line=dict(color=BLUE, width=2, dash="9px,13px"), layer="above"))

# trend lines
data_line((2023.79, 106.2), (2026.087, 106.2), "#b030d0", 2)
data_line((2025.177, 105.6), (2025.389, 63.7), "rgba(100,100,100,0.55)", 2, dash="dash")
data_line(*trend_b, "#ee18d8", 2.4)
data_line(*trend_a, MAGENTA, 2.8)
for x0, x1, price in magenta_h:
    data_line((x0, price), (x1, price), MAGENTA, 2.6)
data_line((2025.788, 121), (2026.33, 121), BLUE, 2.4)

# crosshair
cross = "2025-12-29"
shapes.append(dict(type="line", xref="x", yref="paper", x0=cross, x1=cross, y0=fy(863), y1=fy(27.5),
                   line=dict(color=BLUE, width=2), layer="above"))

# pane 2 and 3 bands
shapes.append(dict(type="rect", xref="paper", yref="y2", x0=fx(LEFT), x1=fx(RIGHT), y0=20, y1=80,
                   fillcolor="#e9d0fc", line=dict(width=0), layer="below"))
shapes.append(dict(type="rect", xref="paper", yref="y3", x0=fx(LEFT), x1=fx(RIGHT), y0=30, y1=70,
                   fillcolor="#f0edf9", line=dict(width=0), layer="below"))
for yref, price, color in [("y2", 80, "#555"), ("y2", 20, "#555"), ("y2", 50, "#a9a2b5"),
                           ("y3", 70, "#555"), ("y3", 30, "#555"), ("y3", 50, "#a9a5b5")]:
    shapes.append(dict(type="line", xref="paper", yref=yref, x0=fx(LEFT), x1=fx(RIGHT), y0=price, y1=price,
                       line=dict(color=color, width=1, dash="4px,3px"), layer="between"))

# frame
paper_line(LEFT, 27.5, 1824, 27.5, "#e0e3eb", 1.5)
paper_line(LEFT, 714, 1824, 714, "#e0e3eb", 2)
paper_line(LEFT, 793.3, 1824, 793.3, "#e0e3eb", 2)
paper_line(LEFT, 890, 1824, 890, "#f0f3fa", 2)
paper_line(LEFT, 27.5, LEFT, 890, "#e0e3eb", 1)
paper_line(LEFT, 863.3, 1824, 863.3, "#50535e", 1.5)
paper_line(RIGHT, 27.5, RIGHT, 890, "#50535e", 1.5)

# right axis boxes
paper_rect(1777, 31, 1821, 57, "#ffffff", "#eceef2", 1)
text(fx(1799), fy(44), "USD", size=12, anchor="center")
paper_rect(RIGHT, 219, 1819, 236, "#38b2e6")
text(fx(1777), fy(227.5), "154.26", size=12)
paper_rect(RIGHT, 410, 1819, 427, BLUE)
text(fx(1777), fy(418.5), "104.88", size=12, color="#ffffff")
paper_rect(RIGHT, 429, 1814, 446, BLUE)
text(fx(1777), fy(437.5), "99.97", size=12, color="#ffffff")
paper_rect(1307, 864, 1396, 886, BLUE)
text(fx(1351.5), fy(875.5), "Mon 29 Dec '25", size=12, color="#ffffff", anchor="center")

# alert icon
shapes.append(dict(type="circle", xref="paper", yref="paper", x0=fx(1440), x1=fx(1460), y0=fy(711), y1=fy(691),
                   line=dict(color="#9c27b0", width=1.6), fillcolor="rgba(0,0,0,0)", layer="above"))
shapes.append(dict(type="circle", xref="paper", yref="paper", x0=fx(1454.5), x1=fx(1459.5), y0=fy(698), y1=fy(693),
                   line=dict(width=0), fillcolor="#f23645", layer="above"))
text(fx(1450), fy(701), "⚡", size=15, color="#7b1fa2", anchor="center", family="DejaVu Sans")

# reversal arrows
for year, price in [(2022.456, 65), (2023.819, 63.45)]:
    notes.append(dict(x=to_date(year), y=price, xref="x", yref="y", text="", showarrow=True, ax=0, ay=26,
                      arrowcolor="#f73c50", arrowwidth=4.5, arrowhead=2, arrowsize=0.7))

# tooltip under the table
paper_rect(215, 591, 363, 616, "#ffffff", "#eef0f3", 1)
text(fx(291), fy(603.5), "29%) −3,571", size=12)

# checklist table
ROW_H = 30.15
TABLE_TOP = 129
paper_rect(18.2, TABLE_TOP, 289, TABLE_TOP + 16 * ROW_H + 1, "#787b86")
paper_rect(20, TABLE_TOP + 1.5, 227, TABLE_TOP + ROW_H - 0.5, "#363a45")
paper_rect(229, TABLE_TOP + 1.5, 287, TABLE_TOP + ROW_H - 0.5, "#363a45")
text(fx(124), fy(TABLE_TOP + 15.5), "BUYING CHECKLIST: XBI", size=13, color="#ffffff", anchor="center")
text(fx(258), fy(TABLE_TOP + 15.5), "STATUS", size=13, color="#ffffff", anchor="center")
for i, (name, ok) in enumerate(zip(table_rows, table_pass)):
    top = TABLE_TOP + ROW_H * (i + 1)
    mid = top + 15.5
    if ok is None:
        text(fx(124), fy(mid), name, size=13, color="#ffffff", anchor="center")
        continue
    paper_rect(20, top + 1.5, 227, top + ROW_H - 0.5, "#1e1e1e")
    paper_rect(229, top + 1.5, 287, top + ROW_H - 0.5, "#4caf50" if ok else "#ff5252")
    text(fx(25), fy(mid), name, size=13, color="#ffffff")
    text(fx(258), fy(mid), "<b>✓</b>" if ok else "<b>✗</b>", size=15, color="#ffffff", anchor="center", family="DejaVu Sans")
top = TABLE_TOP + ROW_H * 15
paper_rect(20, top + 1.5, 227, top + ROW_H - 0.5, "#363a45")
paper_rect(229, top + 1.5, 287, top + ROW_H - 0.5, "#4caf50")
text(fx(25), fy(top + 15.5), "OVERALL CONFIDENCE", size=13, color="#ffffff")
text(fx(258), fy(top + 15.5), "81.82%", size=13, color="#ffffff", anchor="center")

# header lines
text(fx(10), fy(13.5), "ShortSellerST created with TradingView.com, Jul 18, 2026 10:09 UTC-4", size=12.15, color="#131722")
text(fx(18), fy(40.5),
     '<span style="color:#6a6d78">State Street SPDR S&amp;P Biotech ETF · 1W · NYSE Arca \u00a0O</span>157.23'
     '<span style="color:#6a6d78"> \u00a0H</span>157.29<span style="color:#6a6d78"> \u00a0L</span>149.15'
     '<span style="color:#6a6d78"> \u00a0C</span>154.26 \u00a0−4.77 (−3.00%)',
     size=12.2, color="#1d5566")

# TradingView mark
shapes.append(dict(type="path", xref="paper", yref="paper", fillcolor="#131722", line=dict(width=0), layer="above",
                   path=f"M {fx(11.5)},{fy(913)} L {fx(26)},{fy(913)} L {fx(26)},{fy(928)} L {fx(19)},{fy(928)} L {fx(19)},{fy(919)} L {fx(11.5)},{fy(919)} Z"))
shapes.append(dict(type="circle", xref="paper", yref="paper", fillcolor="#131722", line=dict(width=0), layer="above",
                   x0=fx(27.5), x1=fx(33.5), y0=fy(919), y1=fy(913)))
shapes.append(dict(type="path", xref="paper", yref="paper", fillcolor="#131722", line=dict(width=0), layer="above",
                   path=f"M {fx(34.5)},{fy(913)} L {fx(42)},{fy(913)} L {fx(35)},{fy(928)} L {fx(27)},{fy(928)} Z"))
text(fx(49), fy(922), "<b>TradingView</b>", size=19.5, family="Inter")

axis_common = dict(type="date", range=X_RANGE, tickvals=tick_dates, ticktext=tick_names, gridcolor=GRID, showline=False, zeroline=False, ticks="")
tick_font = dict(family=FONT, size=12, color="#3f4350")
y_common = dict(side="right", showline=False, zeroline=False, gridcolor=GRID, ticks="outside", ticklen=4,
                tickcolor="#50535e", tickfont=tick_font, anchor="free", position=fx(RIGHT))

price_ticks = list(range(30, 210, 10))
price_names = [f"{v:.2f}" if v != 200 else "" for v in price_ticks]


def domain_y(top, bottom):
    return [fy(bottom), fy(top)]


fig.update_layout(
    width=W, height=H, autosize=False,
    margin=dict(l=0, r=0, t=0, b=0),
    paper_bgcolor="#ffffff", plot_bgcolor="#ffffff",
    showlegend=False, hovermode=False, boxgap=0.12, boxmode="overlay",
    font=dict(family=FONT, size=12),
    xaxis=dict(axis_common, domain=[fx(LEFT), fx(RIGHT)], anchor="y", showticklabels=False, rangeslider=dict(visible=False)),
    xaxis2=dict(axis_common, domain=[fx(LEFT), fx(RIGHT)], anchor="y2", showticklabels=False, matches="x"),
    xaxis3=dict(axis_common, domain=[fx(LEFT), fx(RIGHT)], anchor="y3", showticklabels=True, matches="x", tickfont=tick_font,
                ticks="outside", ticklen=5, tickcolor="rgba(0,0,0,0)"),
    yaxis=dict(y_common, domain=domain_y(27.5, 714), range=[Y_BOTTOM, Y_TOP], tickvals=price_ticks, ticktext=price_names),
    yaxis2=dict(y_common, domain=domain_y(714, 793.3), range=[0.9, 103.5], tickvals=[40, 80], tickformat=".2f"),
    yaxis3=dict(y_common, domain=domain_y(793.3, 863.3), type="log", range=[1.36, 1.95], tickvals=[30, 80], tickformat=".2f"),
    shapes=shapes, annotations=notes,
)

fig.write_html("out.html", config=dict(displayModeBar=False),
               post_script="document.body.style.margin='0';document.body.style.overflow='hidden';")
